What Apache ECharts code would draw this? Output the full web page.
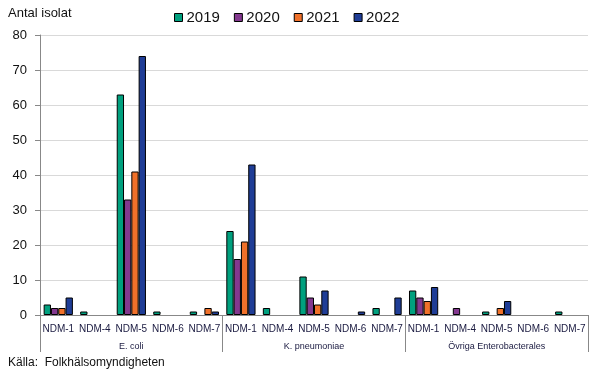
<!DOCTYPE html>
<html><head><meta charset="utf-8">
<script src="https://cdn.jsdelivr.net/npm/echarts@6/dist/echarts.min.js"></script>
<style>html,body{margin:0;padding:0;background:#fff}#c{width:604px;height:378px}</style>
</head><body><div id="c"></div>
<script>
const groups = ['E. coli', 'K. pneumoniae', 'Övriga Enterobacterales'];
const types = ['NDM-1', 'NDM-4', 'NDM-5', 'NDM-6', 'NDM-7'];
const years = ['2019', '2020', '2021', '2022'];
const colors = ['#00a07e', '#83388f', '#f0712a', '#1f3d96'];
const v2019 = [3, 1, 63, 1, 1,   24, 2, 11, 0, 2,   7, 0, 1, 0, 1];
const v2020 = [2, 0, 33, 0, 0,   16, 0, 5, 0, 0,    5, 2, 0, 0, 0];
const v2021 = [2, 0, 41, 0, 2,   21, 0, 3, 0, 0,    4, 0, 2, 0, 0];
const v2022 = [5, 0, 74, 0, 1,   43, 0, 7, 1, 5,    8, 0, 4, 0, 0];
const yTicks = [0, 10, 20, 30, 40, 50, 60, 70, 80];

const cats = [];
groups.forEach(() => types.forEach(t => cats.push(t)));
const vals = [v2019, v2020, v2021, v2022];
const font = 'Liberation Sans';

const chart = echarts.init(document.getElementById('c'));
chart.setOption({
  animation: false,
  textStyle: { fontFamily: font },
  graphic: [
    { type: 'text', left: 8, top: 7, style: { text: 'Antal isolat', font: '13px ' + font, fill: '#111' } },
    { type: 'text', left: 8, top: 357, style: { text: 'Källa:  Folkhälsomyndigheten', font: '12px ' + font, fill: '#111' } }
  ],
  legend: {
    top: 5, left: 169, itemWidth: 8, itemHeight: 8, itemGap: 14,
    textStyle: { fontSize: 15, color: '#111', fontFamily: font, padding: [0, 0, 0, -1] },
    icon: 'rect',
    itemStyle: { borderColor: '#000', borderWidth: 1 },
    data: years
  },
  grid: { left: 40, right: 16, top: 35, bottom: 63 },
  xAxis: [
    {
      type: 'category', data: cats, position: 'bottom',
      axisLine: { lineStyle: { color: '#888' } },
      axisTick: { show: false },
      axisLabel: { interval: 0, fontSize: 10, color: '#1a1a40', margin: 9 }
    },
    {
      type: 'category', data: groups, position: 'bottom',
      axisLine: { show: false },
      axisTick: { show: true, length: 37, lineStyle: { color: '#888' } },
      axisLabel: { interval: 0, fontSize: 9, color: '#1a1a40', margin: 27 }
    }
  ],
  yAxis: {
    type: 'value', min: 0, max: 80, interval: 10,
    axisLine: { show: true, lineStyle: { color: '#888' } },
    axisTick: { show: true, length: 5, lineStyle: { color: '#888' } },
    axisLabel: { fontSize: 13, color: '#111', margin: 13,
      formatter: v => yTicks.includes(v) ? String(v) : '' },
    splitLine: { lineStyle: { color: '#d9d9d9' } }
  },
  series: years.map((y, i) => ({
    name: y, type: 'bar', xAxisIndex: 0,
    data: vals[i].map(v => v === 0 ? '-' : v),
    barGap: '0%', barCategoryGap: '20%',
    itemStyle: { color: colors[i], borderColor: '#000', borderWidth: 1 }
  }))
});
</script></body></html>
